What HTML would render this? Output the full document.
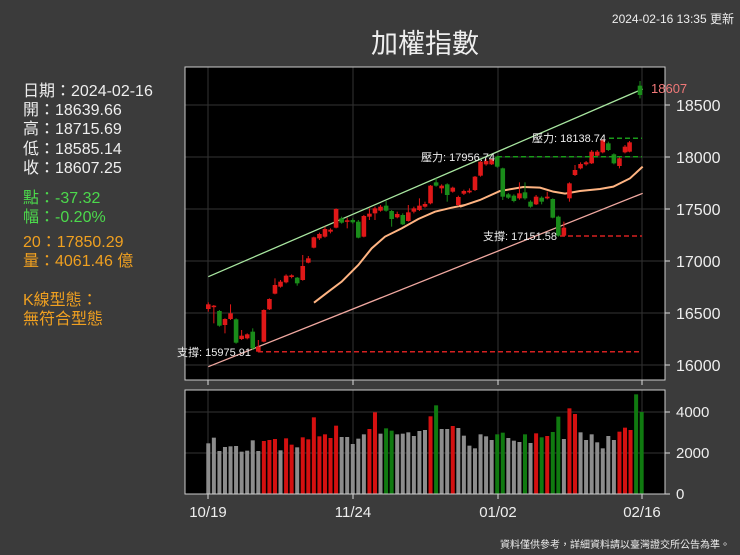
<!DOCTYPE html>
<html><head><meta charset="utf-8"><style>
html,body{margin:0;padding:0;background:#3b3b3b;}
body{width:740px;height:555px;overflow:hidden;position:relative;font-family:"Liberation Sans","Noto Sans CJK TC",sans-serif;}
.t{position:absolute;white-space:nowrap;line-height:1;}
</style></head><body>
<svg id="s" width="740" height="555" style="position:absolute;left:0;top:0" xmlns="http://www.w3.org/2000/svg" font-family="Liberation Sans, Noto Sans CJK TC, sans-serif"></svg>
<div class="t" style="left:0;width:740px;text-align:center;top:31px;font-size:27px;color:#eee;padding-left:110px;box-sizing:border-box">加權指數</div>
<div class="t" style="right:6px;top:13px;font-size:12px;color:#eee">2024-02-16 13:35 更新</div>
<div class="t" style="right:10px;top:541px;font-size:10px;color:#eee">資料僅供參考，詳細資料請以臺灣證交所公告為準。</div>
<div class="t" style="left:23px;top:82px;font-size:16px;color:#eee;line-height:19.2px">日期：2024-02-16<br>開：18639.66<br>高：18715.69<br>低：18585.14<br>收：18607.25</div>
<div class="t" style="left:23px;top:189px;font-size:16px;color:#4cd94c;line-height:19.2px">點：-37.32<br>幅：-0.20%</div>
<div class="t" style="left:23px;top:233px;font-size:16px;color:#f0a020;line-height:19.2px">20：17850.29<br>量：4061.46 億</div>
<div class="t" style="left:23px;top:291px;font-size:16px;color:#f0a020;line-height:19.2px">K線型態：<br>無符合型態</div>
<script>
var s=document.getElementById('s'),NS='http://www.w3.org/2000/svg';
function el(t,a,txt){var e=document.createElementNS(NS,t);for(var k in a)e.setAttribute(k,a[k]);if(txt!=null)e.textContent=txt;s.appendChild(e);return e;}
// plot boxes
el('rect',{x:185,y:67,width:480,height:313,fill:'#000'});
el('rect',{x:185,y:390,width:480,height:104,fill:'#000'});
var X0=208.3,ST=5.556;
function yp(v){return 365-(v-16000)*0.104;}
// grid
[16000,16500,17000,17500,18000,18500].forEach(function(v){var y=yp(v);el('line',{x1:185,x2:665,y1:y,y2:y,stroke:'#333','stroke-width':1});el('line',{x1:665,x2:670,y1:y,y2:y,stroke:'#ddd'});el('text',{x:676,y:y+6,fill:'#eee','font-size':16},v);});
[[0,494],[2000,453],[4000,412]].forEach(function(a){el('line',{x1:185,x2:665,y1:a[1],y2:a[1],stroke:'#333'});el('line',{x1:665,x2:670,y1:a[1],y2:a[1],stroke:'#ddd'});el('text',{x:676,y:a[1]+5,fill:'#eee','font-size':15},a[0]);});
[[208,'10/19'],[353,'11/24'],[498,'01/02'],[642,'02/16']].forEach(function(a){el('line',{x1:a[0],x2:a[0],y1:67,y2:380,stroke:'#333'});el('line',{x1:a[0],x2:a[0],y1:390,y2:494,stroke:'#333'});el('line',{x1:a[0],x2:a[0],y1:494,y2:499,stroke:'#ddd'});el('line',{x1:a[0],x2:a[0],y1:380,y2:385,stroke:'#ddd'});el('text',{x:a[0],y:517,fill:'#eee','font-size':15,'text-anchor':'middle'},a[1]);});
// volume
var vol=[[175,'g'],[158,'g'],[198,'g'],[186,'g'],[184,'g'],[183,'g'],[200,'g'],[197,'g'],[166,'g'],[198,'g'],[168,'r'],[165,'r'],[162,'r'],[196,'g'],[160,'r'],[179,'r'],[187,'g'],[157,'r'],[163,'r'],[97,'r'],[154,'r'],[148,'r'],[159,'r'],[122,'r'],[156,'g'],[156,'g'],[177,'g'],[161,'g'],[148,'g'],[132,'r'],[82,'r'],[146,'g'],[130,'G'],[137,'G'],[148,'g'],[146,'g'],[142,'g'],[153,'g'],[138,'g'],[135,'g'],[94,'r'],[61,'G'],[132,'g'],[132,'g'],[123,'r'],[129,'g'],[152,'g'],[182,'g'],[190,'g'],[148,'g'],[154,'g'],[165,'g'],[148,'G'],[143,'G'],[159,'g'],[167,'g'],[171,'g'],[148,'G'],[174,'g'],[145,'r'],[157,'G'],[153,'r'],[141,'G'],[95,'G'],[162,'g'],[70,'r'],[87,'r'],[142,'g'],[165,'g'],[148,'g'],[172,'g'],[190,'g'],[153,'g'],[165,'g'],[140,'r'],[128,'r'],[135,'r'],[28,'G'],[81,'G']];
var col={g:'#8c8c8c',r:'#d41010',G:'#107a10'};
vol.forEach(function(v,i){var x=X0+i*ST,t=385+v[0]/3;el('rect',{x:x-2,y:t,width:4,height:494-t,fill:col[v[1]]});});
// lines
el('line',{x1:208.3,y1:276.7,x2:642.7,y2:89,stroke:'#a8e6a0','stroke-width':1.3});
el('line',{x1:208.3,y1:366.7,x2:642.7,y2:193.3,stroke:'#f0a8a0','stroke-width':1.3});
// MA
var m1=[[387,713],[430,680],[470,650],[520,600],[560,550],[600,515],[650,490],[700,462],[750,440],[800,428],[840,420]].map(function(p){return [185+p[0]/3,65+p[1]/3];});
var m2=[[60,425],[120,405],[180,378],[250,366],[300,368],[340,380],[375,386],[420,378],[480,372],[520,365],[570,340],[608,305]].map(function(p){return [440+p[0]/3,65+p[1]/3];});
el('polyline',{points:m1.concat(m2).map(function(p){return p.join(',')}).join(' '),fill:'none',stroke:'#ffb482','stroke-width':2});
// candles [bodyTop,bodyBot,wickTop,wickBot,color] in zoom y
var c=[[718,732,712,740,'r'],[722,726,720,775,'r'],[738,782,735,785,'G'],[762,780,760,805,'r'],[745,762,718,765,'r'],[763,833,760,836,'G'],[812,822,795,825,'r'],[808,820,805,823,'r'],[800,850,790,855,'G'],[845,860,825,862,'r'],[735,830,733,832,'r'],[702,733,700,735,'r'],[660,686,640,688,'r'],[650,665,645,668,'r'],[632,652,628,655,'r'],[631,636,628,640,'r'],[638,655,636,662,'G'],[603,645,570,647,'r'],[580,593,573,595,'r'],[517,548,515,550,'r'],[507,520,503,525,'r'],[492,515,485,518,'r'],[494,500,490,505,'r'],[432,488,430,490,'r'],[460,473,455,476,'G'],[466,470,458,490,'r'],[465,472,460,476,'G'],[470,518,465,520,'G'],[453,515,450,517,'r'],[446,455,430,465,'r'],[430,445,425,465,'r'],[425,437,420,440,'r'],[422,437,408,440,'G'],[438,462,435,485,'G'],[447,457,440,460,'r'],[450,478,445,480,'G'],[442,468,420,470,'r'],[430,440,425,445,'r'],[422,435,400,438,'r'],[417,425,410,428,'r'],[362,415,360,418,'r'],[352,362,340,365,'G'],[362,370,358,385,'r'],[358,390,355,410,'G'],[368,380,365,383,'r'],[396,420,392,423,'r'],[378,386,374,390,'r'],[377,382,370,385,'r'],[335,375,333,378,'r'],[290,332,288,335,'r'],[288,298,282,302,'r'],[283,298,280,300,'r'],[275,305,272,308,'G'],[310,395,308,405,'G'],[388,398,384,402,'G'],[392,408,388,412,'G'],[385,400,352,404,'r'],[382,400,352,404,'G'],[410,425,406,428,'G'],[395,418,390,420,'r'],[398,410,394,418,'G'],[395,400,380,403,'r'],[402,458,400,460,'G'],[455,512,452,515,'G'],[488,512,470,515,'r'],[355,400,352,410,'r'],[315,330,300,333,'r'],[297,310,292,313,'r'],[292,298,288,302,'r'],[260,295,255,297,'r'],[260,272,255,275,'r'],[225,262,222,265,'r'],[235,255,230,258,'G'],[268,295,265,298,'G'],[280,303,277,310,'r'],[245,262,240,265,'r'],[232,260,228,262,'r'],[62,90,48,100,'G']];
var cc={r:'#e01818',G:'#1a8c1a'};
c.forEach(function(d,i){var x=X0+i*ST;if(i==c.length-1)x=640;else if(i>=76)x=X0+i*ST-1;
el('line',{x1:x,x2:x,y1:65+d[2]/3,y2:65+d[3]/3,stroke:cc[d[4]],'stroke-width':1});
el('rect',{x:x-2.3,y:65+d[0]/3,width:4.6,height:Math.max(1.5,(d[1]-d[0])/3),fill:cc[d[4]]});});
// dashed levels
el('line',{x1:258,x2:642,y1:351.7,y2:351.7,stroke:'#d42020','stroke-width':1.5,'stroke-dasharray':'5,3'});
el('line',{x1:497,x2:642,y1:156.7,y2:156.7,stroke:'#1a9a1a','stroke-width':1.5,'stroke-dasharray':'5,3'});
el('line',{x1:609,x2:642,y1:138.3,y2:138.3,stroke:'#1a9a1a','stroke-width':1.5,'stroke-dasharray':'5,3'});
el('line',{x1:560,x2:642,y1:236,y2:236,stroke:'#d42020','stroke-width':1.5,'stroke-dasharray':'5,3'});
function lab(x,y,t){el('text',{x:x,y:y+4,fill:'#eee','font-size':11,'text-anchor':'end'},t);}
lab(251,352,'支撐: 15975.91');lab(495,157,'壓力: 17956.74');lab(606,138,'壓力: 18138.74');lab(557,236,'支撐: 17151.58');
el('text',{x:651,y:93,fill:'#f07878','font-size':13},'18607');
// borders
el('rect',{x:185,y:67,width:480,height:313,fill:'none',stroke:'#ccc','stroke-width':1});
el('rect',{x:185,y:390,width:480,height:104,fill:'none',stroke:'#ccc','stroke-width':1});
</script>
</body></html>
